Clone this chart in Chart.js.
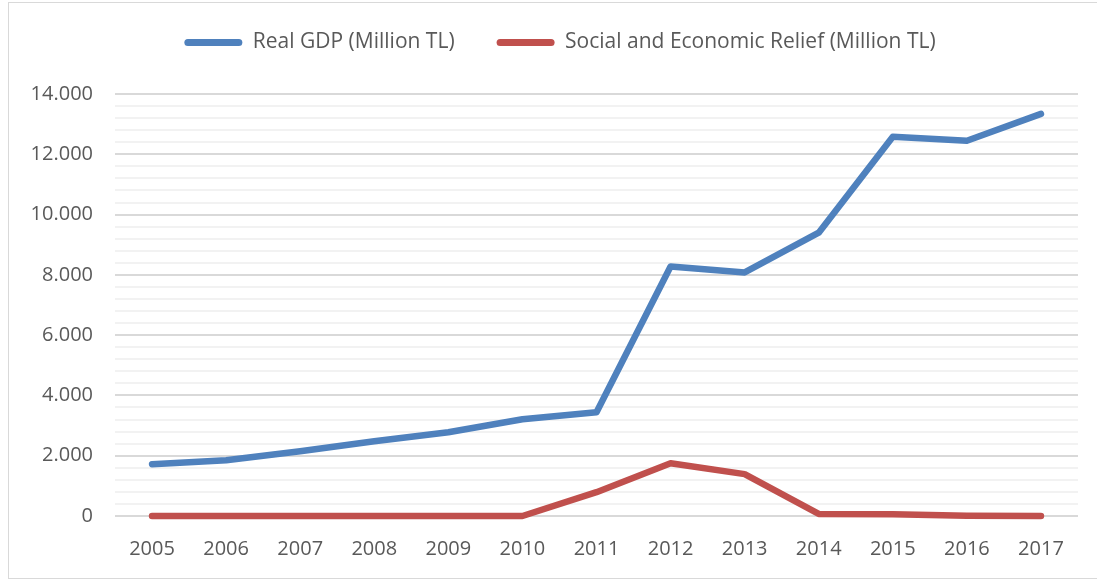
<!DOCTYPE html>
<html lang="en">
<head>
    <meta charset="UTF-8">
    <title>Real GDP and Social and Economic Relief</title>
    <script src="https://cdn.jsdelivr.net/npm/chart.js@4.4.1/dist/chart.umd.min.js"></script>
    <style>
        body {
            margin: 0;
            background: #ffffff;
            overflow: hidden;
        }

        .frame {
            position: absolute;
            left: 8px;
            top: 2px;
            width: 1200px;
            height: 575px;
            border: 1px solid #d9d9d9;
        }

        .chart-container {
            position: absolute;
            left: 0;
            top: 0;
            width: 1097px;
            height: 581px;
        }
    </style>
</head>
<body>
    <div class="frame"></div>
    <div class="chart-container">
        <canvas id="gdpChart"></canvas>
    </div>

    <script>
        const years = ['2005', '2006', '2007', '2008', '2009', '2010', '2011', '2012', '2013', '2014', '2015', '2016', '2017'];
        const realGdp = [1720, 1850, 2150, 2480, 2780, 3210, 3440, 8280, 8080, 9400, 12580, 12450, 13340];
        const relief = [0, 0, 0, 0, 0, 0, 790, 1750, 1390, 70, 60, 10, 0];

        const textColor = '#595959';
        const fontFamily = '"Open Sans", "Noto Sans", sans-serif';

        // thousands separator with a dot: 14000 -> 14.000
        function formatTick(v) {
            return String(v).replace(/\B(?=(\d{3})+(?!\d))/g, '.');
        }

        // extra room under the legend, and nudge it right / up a little
        const legendTweak = {
            id: 'legendTweak',
            beforeInit(chart) {
                const legend = chart.legend;
                const fit = legend.fit;
                legend.fit = function () {
                    fit.bind(legend)();
                    this.height += 19;
                };
                const draw = legend.draw;
                legend.draw = function () {
                    const c = chart.ctx;
                    c.save();
                    c.translate(21, -12);
                    draw.bind(legend)();
                    c.restore();
                };
            }
        };

        const ctx = document.getElementById('gdpChart').getContext('2d');
        new Chart(ctx, {
            type: 'line',
            data: {
                labels: years,
                datasets: [{
                    label: 'Real GDP (Million TL)',
                    data: realGdp,
                    borderColor: '#4f81bd',
                    backgroundColor: '#4f81bd',
                    borderWidth: 6.5,
                    pointRadius: 0,
                    tension: 0,
                    borderCapStyle: 'round',
                    borderJoinStyle: 'round',
                    clip: false
                }, {
                    label: 'Social and Economic Relief (Million TL)',
                    data: relief,
                    borderColor: '#c0504d',
                    backgroundColor: '#c0504d',
                    borderWidth: 6.5,
                    pointRadius: 0,
                    tension: 0,
                    borderCapStyle: 'round',
                    borderJoinStyle: 'round',
                    clip: false
                }]
            },
            options: {
                responsive: true,
                maintainAspectRatio: false,
                animation: false,
                layout: {
                    padding: { left: 0, right: 19, top: 2, bottom: 0 }
                },
                plugins: {
                    tooltip: { enabled: false },
                    legend: {
                        position: 'top',
                        labels: {
                            color: textColor,
                            font: { family: fontFamily, size: 21 },
                            boxWidth: 58,
                            boxHeight: 7,
                            useBorderRadius: true,
                            borderRadius: 3.5,
                            padding: 42,
                            generateLabels(chart) {
                                const items = Chart.defaults.plugins.legend.labels.generateLabels(chart);
                                items.forEach(item => { item.lineWidth = 0; });
                                return items;
                            }
                        }
                    }
                },
                scales: {
                    x: {
                        offset: true,
                        grid: { display: false },
                        border: { display: false },
                        ticks: {
                            color: textColor,
                            font: { family: fontFamily, size: 20 },
                            padding: 13,
                            maxRotation: 0
                        },
                        afterFit(scale) {
                            scale.height = 65;
                        }
                    },
                    y: {
                        min: 0,
                        max: 14000,
                        border: { display: false },
                        grid: {
                            drawTicks: false,
                            lineWidth: 2,
                            color: c => (c.tick && c.tick.value % 2000 === 0) ? '#d9d9d9' : '#f2f2f2'
                        },
                        ticks: {
                            stepSize: 400,
                            autoSkip: false,
                            color: textColor,
                            font: { family: fontFamily, size: 20 },
                            padding: 22,
                            callback: v => (v % 2000 === 0) ? formatTick(v) : ''
                        },
                        afterFit(scale) {
                            scale.width = 115;
                        }
                    }
                }
            },
            plugins: [legendTweak]
        });
    </script>
</body>
</html>
